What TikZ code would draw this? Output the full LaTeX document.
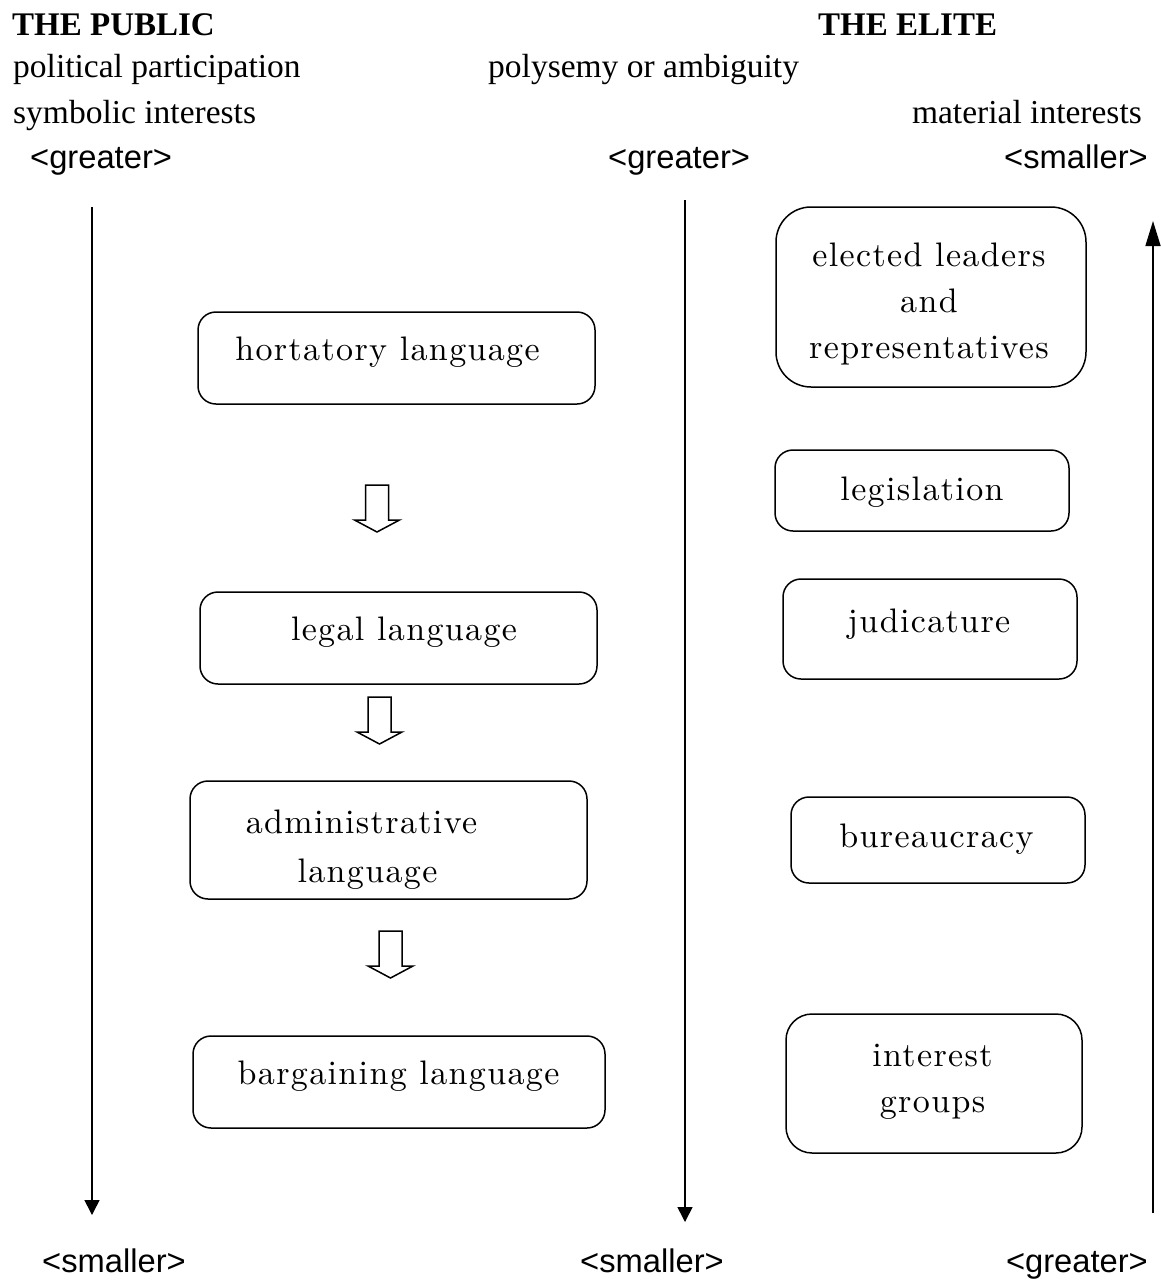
\documentclass[tikz,border=0pt]{standalone}
\usepackage{fontspec}
\newfontfamily\timesfont{Liberation Serif}
\newfontfamily\arialfont{Liberation Sans}
\newfontfamily\panelfont[LetterSpace=4]{lmroman10-regular.otf}
\usetikzlibrary{arrows.meta}
\tikzset{
    panel/.style={draw, line width=1.5pt, rounded corners=18pt, inner sep=0pt},
    paneltext/.style={inner sep=0pt, anchor=base, align=center,
        font=\panelfont\fontsize{34}{46}\selectfont},
    heading/.style={inner sep=0pt, font=\timesfont\bfseries\fontsize{33}{40}\selectfont},
    side/.style={inner sep=0pt, font=\timesfont\fontsize{33.5}{40}\selectfont},
    gauge/.style={inner sep=0pt, font=\arialfont\fontsize{32.7}{40}\selectfont},
    axis/.style={line width=1.6pt},
    hollow/.style={line width=1.5pt, line join=miter}
}
\newcommand{\hollowdown}[2]{%
    \draw[hollow] (#1-11.5,#2) -- ++(23,0) -- ++(0,35) -- ++(11,0)
        -- (#1,#2+47) -- (#1-22.5,#2+35) -- ++(11,0) -- cycle;}
\begin{document}
\begin{tikzpicture}[x=1pt,y=-1pt]
            \useasboundingbox (0,0) rectangle (1161,1283);
            % headings
            \node[heading, anchor=base west] (public) at (12,35) {THE PUBLIC};
            \node[heading, anchor=base west] (elite) at (818,35) {THE ELITE};
            \node[side, anchor=base west] (partic) at (13,77) {political participation};
            \node[side, anchor=base west] (polys) at (488,77) {polysemy or ambiguity};
            \node[side, anchor=base west] (symb) at (13,123) {symbolic interests};
            \node[side, anchor=base east] (mater) at (1142,123) {material interests};
            % gauge labels
            \node[gauge, anchor=base west] (gtl) at (30,168) {<greater>};
            \node[gauge, anchor=base west] (gtm) at (608,168) {<greater>};
            \node[gauge, anchor=base east] (smr) at (1148,168) {<smaller>};
            \node[gauge, anchor=base west] (sml) at (42,1272) {<smaller>};
            \node[gauge, anchor=base west] (smm) at (580,1272) {<smaller>};
            \node[gauge, anchor=base east] (gtr) at (1148,1272) {<greater>};
            % axes
            \coordinate (ltop) at (92,207);
            \coordinate (lbot) at (92,1215);
            \coordinate (mtop) at (685,200);
            \coordinate (mbot) at (685,1222);
            \coordinate (rbot) at (1153,1213);
            \coordinate (rtop) at (1153,221);
            \draw[axis, -{Triangle[length=15pt,width=15pt]}] (ltop) -- (lbot);
            \draw[axis, -{Triangle[length=15pt,width=15pt]}] (mtop) -- (mbot);
            \draw[axis, -{Triangle[length=25pt,width=15pt]}] (rbot) -- (rtop);
            % languages
            \node[panel, minimum width=397pt, minimum height=92pt] (hort) at (396.5,358) {};
            \node[paneltext] (horttxt) at (387.5,360) {hortatory language};
            \node[panel, minimum width=397pt, minimum height=92pt] (legal) at (398.5,638) {};
            \node[paneltext] (legaltxt) at (404,640) {legal language};
            \node[panel, minimum width=397pt, minimum height=118pt] (admin) at (388.5,840) {};
            \node[paneltext] (admintxt) at (361.5,833) {administrative};
            \node[paneltext] (admintxt2) at (367.5,882) {language};
            \node[panel, minimum width=412pt, minimum height=92pt] (barg) at (399,1082) {};
            \node[paneltext] (bargtxt) at (398.5,1084) {bargaining language};
            \hollowdown{377}{485}
            \hollowdown{379.5}{697}
            \hollowdown{390.5}{931}
            % actors
            \node[panel, rounded corners=35pt, minimum width=310pt, minimum height=180pt] (elect) at (931,297) {};
            \node[paneltext] (electtxt) at (929,358) {elected leaders\\and\\representatives};
            \node[panel, minimum width=294pt, minimum height=81pt] (legis) at (922,490.5) {};
            \node[paneltext] (legistxt) at (922,500) {legislation};
            \node[panel, minimum width=294pt, minimum height=100pt] (judic) at (930,629) {};
            \node[paneltext] (judictxt) at (929,632) {judicature};
            \node[panel, minimum width=294pt, minimum height=86pt] (bureau) at (938,840) {};
            \node[paneltext] (bureautxt) at (936.5,847) {bureaucracy};
            \node[panel, rounded corners=26pt, minimum width=296pt, minimum height=139pt] (inter) at (934,1083.5) {};
            \node[paneltext] (intertxt) at (932.5,1112) {interest\\groups};
        \end{tikzpicture}
\end{document}
